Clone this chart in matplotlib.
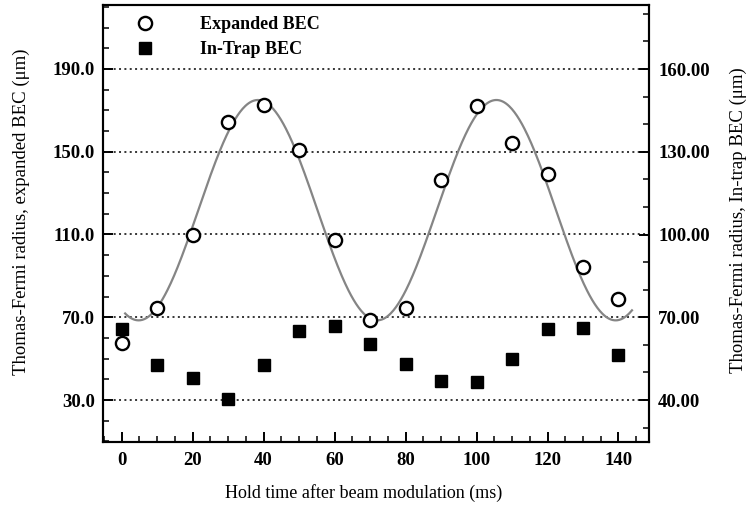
import numpy as np
import matplotlib
matplotlib.use("Agg")
import matplotlib.pyplot as plt
from matplotlib.ticker import MultipleLocator, FormatStrFormatter

plt.rcParams["font.family"] = ["Liberation Serif", "DejaVu Serif"]

# Hold times (ms)
hold_time = [0, 10, 20, 30, 40, 50, 60, 70, 80, 90, 100, 110, 120, 130, 140]

# Thomas-Fermi radius of the expanded BEC (um), left axis
expanded_radius = [57.4, 74.7, 109.7, 164.2, 172.7, 150.6, 107.4, 68.7,
                   74.4, 136.1, 171.9, 154.2, 139.4, 94.5, 78.7]

# Thomas-Fermi radius of the in-trap BEC (um), right axis
in_trap_radius = [65.6, 52.7, 47.9, 40.2, 52.7, 65.2, 67.0, 60.2,
                  53.1, 47.0, 46.6, 54.9, 65.6, 66.0, 56.3]

# Sinusoidal fit to the expanded-BEC oscillation
fit_offset = 121.75
fit_amplitude = 53.25
fit_period = 67.2
fit_t_min = 4.8
fit_range = (1.0, 143.8)

left_ticks = [30, 70, 110, 150, 190]
right_ticks = [40, 70, 100, 130, 160]

fig = plt.figure(figsize=(7.51, 5.08), dpi=100)
ax = fig.add_axes([0.1378, 0.1299, 0.7264, 0.8602])
ax2 = ax.twinx()

t_fit = np.linspace(fit_range[0], fit_range[1], 600)
r_fit = fit_offset - fit_amplitude * np.cos(2 * np.pi * (t_fit - fit_t_min) / fit_period)

ax.plot(t_fit, r_fit, color="#858585", lw=1.6, zorder=3)
h1, = ax.plot(hold_time, expanded_radius, "o", ms=9.5, mfc="white", mec="black",
              mew=1.7, zorder=5, label="Expanded BEC", clip_on=False)
h2, = ax2.plot(hold_time, in_trap_radius, "s", ms=8.5, color="black",
               zorder=5, label="In-Trap BEC", clip_on=False)

ax.set_xlim(-5.1, 148.6)
ax.set_ylim(9.7, 220.9)
ax2.set_ylim(24.78, 183.2)

ax.xaxis.set_major_locator(MultipleLocator(20))
ax.xaxis.set_minor_locator(MultipleLocator(5))
ax.set_yticks(left_ticks)
ax.yaxis.set_minor_locator(MultipleLocator(10))
ax.yaxis.set_major_formatter(FormatStrFormatter("%.1f"))
ax2.set_yticks(right_ticks)
ax2.yaxis.set_minor_locator(MultipleLocator(10))
ax2.yaxis.set_major_formatter(FormatStrFormatter("%.2f"))

for gy in left_ticks:
    ax.axhline(gy, color="black", lw=1.1, ls=(0, (1.3, 2.2)), zorder=1)

for a in (ax, ax2):
    for s in a.spines.values():
        s.set_linewidth(1.5)
ax.tick_params(axis="x", which="major", direction="in", length=7, width=1.4,
               labelsize=13.5, pad=7, top=False)
ax.tick_params(axis="y", which="major", direction="in", length=7, width=1.4,
               labelsize=13.5, pad=6, right=False)
ax.tick_params(axis="both", which="minor", direction="in", length=4, width=1.1,
               top=False, right=False)
ax2.tick_params(axis="y", which="major", direction="in", length=7, width=1.4,
                labelsize=13.5, pad=6.5)
ax2.tick_params(axis="y", which="minor", direction="in", length=4, width=1.1)
for lab in ax.get_xticklabels() + ax.get_yticklabels() + ax2.get_yticklabels():
    lab.set_fontweight("bold")

ax.set_xlabel("Hold time after beam modulation (ms)", fontsize=13)
ax.set_ylabel("Thomas-Fermi radius, expanded BEC (μm)", fontsize=13.5)
ax2.set_ylabel("Thomas-Fermi radius, In-trap BEC (μm)", fontsize=13.5)
ax.xaxis.set_label_coords(0.476, -0.096)
ax.yaxis.set_label_coords(-0.151, 0.526)
ax2.yaxis.set_label_coords(1.163, 0.508)
ax.yaxis.label.set_va("center")
ax2.yaxis.label.set_va("center")

leg = ax.legend(handles=[h1, h2], loc="upper left", bbox_to_anchor=(0.043, 0.974),
                frameon=False, fontsize=13, handletextpad=2.05, handlelength=2.0,
                labelspacing=0.44, borderaxespad=0.0, borderpad=0.0)
for txt in leg.get_texts():
    txt.set_fontweight("bold")

fig.savefig("out.png", dpi=100)
